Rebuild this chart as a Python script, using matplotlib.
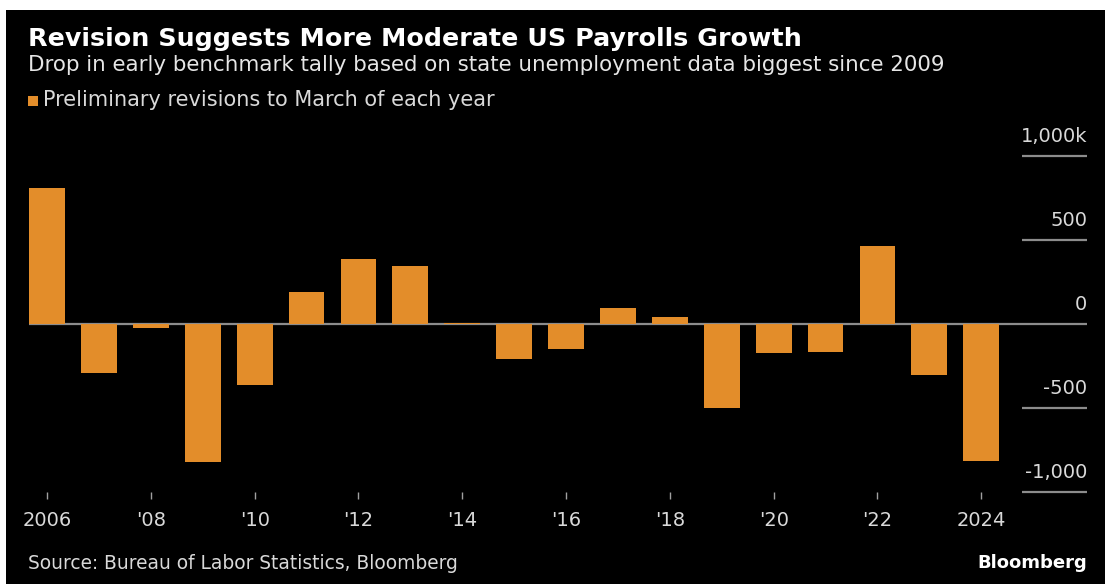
import numpy as np
import matplotlib.pyplot as plt
from matplotlib.patches import Rectangle

# Preliminary benchmark revisions to March payrolls, thousands
years = list(range(2006, 2025))
revisions = [810, -293, -24, -824, -366, 192, 386, 345, 7, -208,
             -150, 95, 43, -501, -173, -166, 462, -306, -818]

tick_years = list(range(2006, 2025, 2))
tick_labels = ['2006', "'08", "'10", "'12", "'14", "'16", "'18", "'20", "'22", '2024']

y_levels = [1000, 500, 0, -500, -1000]
y_labels = ['1,000k', '500', '0', '-500', '-1,000']

W, H = 1105, 584
ORANGE = '#E38D2A'
GRID = '#8c8c8c'
TXT = '#d9d9d9'

plt.rcParams['font.family'] = ['DejaVu Sans']

fig = plt.figure(figsize=(W / 100, H / 100), dpi=100, facecolor='white')

# black panel with a thin white margin top and left
fig.patches.append(Rectangle((6 / W, 0), 1 - 6 / W, 1 - 10 / H,
                             transform=fig.transFigure, facecolor='black',
                             edgecolor='none', zorder=-10))


def px(x, y):
    return x / W, 1 - y / H


# axes placed so that the plot area runs from x=29..1087, y=156..492 px
left, right, top, bottom = 29, 1087, 156, 492
ax = fig.add_axes([left / W, 1 - bottom / H, (right - left) / W, (bottom - top) / H])
ax.set_facecolor('none')

spacing = 51.88
x0 = 2006 - 18 / spacing
x1 = 2006 + (right - 47.5) / spacing
ax.set_xlim(x0, x1)
ax.set_ylim(-1000, 1000)

ax.bar(years, revisions, width=0.69, color=ORANGE, zorder=4)

# short gridlines under the right-hand labels, zero line across the whole width
ytr = ax.get_yaxis_transform()
gx0 = (1022 - left) / (right - left)
for v, lab in zip(y_levels, y_labels):
    if v == 0:
        ax.plot([0, 1], [0, 0], transform=ytr, color=GRID, lw=1.6, zorder=3,
                solid_capstyle='butt')
    else:
        ax.plot([gx0, 1], [v, v], transform=ytr, color=GRID, lw=1.6,
                solid_capstyle='butt', clip_on=False)
    ax.annotate(lab, xy=(1, v), xycoords=ytr, xytext=(0, 10),
                textcoords='offset points', ha='right', va='baseline',
                color=TXT, fontsize=14)

for s in ax.spines.values():
    s.set_visible(False)
ax.set_yticks([])
ax.set_xticks(tick_years)
ax.set_xticklabels(tick_labels, color=TXT, fontsize=14)
ax.tick_params(axis='x', length=5, width=1, color='#a0a0a0', pad=9)

# header
fig.text(*px(28, 46), 'Revision Suggests More Moderate US Payrolls Growth',
         color='white', fontsize=18.3, fontweight='bold', va='baseline')
fig.text(*px(28, 71),
         'Drop in early benchmark tally based on state unemployment data biggest since 2009',
         color='#e6e6e6', fontsize=15.4, va='baseline')
fig.patches.append(Rectangle(px(28, 106), 10 / W, 10 / H, transform=fig.transFigure,
                             facecolor=ORANGE, edgecolor='none'))
fig.text(*px(43, 106), 'Preliminary revisions to March of each year',
         color=TXT, fontsize=15, va='baseline')

# footer
fig.text(*px(28, 569), 'Source: Bureau of Labor Statistics, Bloomberg',
         color=TXT, fontsize=13.4, va='baseline')
fig.text(*px(1087, 568), 'Bloomberg', color='white', fontsize=13,
         fontweight='bold', ha='right', va='baseline')

fig.savefig('out.png', dpi=100, facecolor=fig.get_facecolor())
